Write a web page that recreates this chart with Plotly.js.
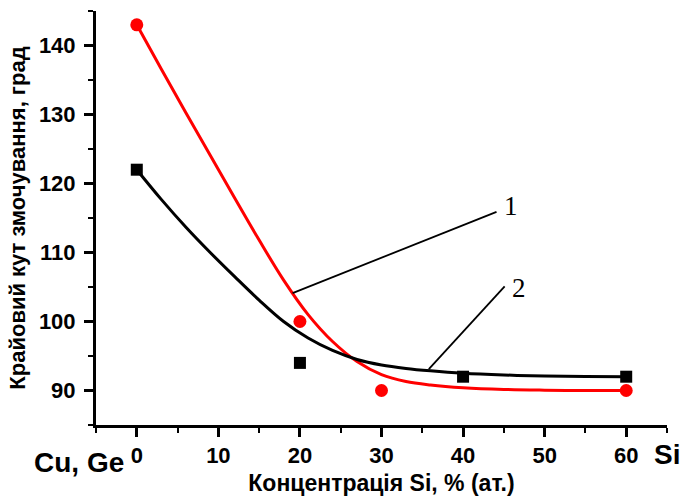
<!DOCTYPE html>
<html>
<head>
<meta charset="utf-8">
<script src="https://cdn.plot.ly/plotly-3.0.1.min.js"></script>
<style>html,body{margin:0;padding:0;background:#fff;}#chart{width:682px;height:496px;}</style>
</head>
<body>
<div id="chart"></div>
<script>
// Measured points
const xRed = [0, 20, 30, 60];
const yRed = [143, 100, 90, 90];
const xBlack = [0, 20, 40, 60];
const yBlack = [122, 94, 92, 92];

// Fitted curves
const fitX = [0, 3, 6, 9, 12, 15, 18, 21, 24, 27, 30, 33, 36, 40, 45, 50, 55, 60];
const fitRed = [143, 136.6, 130.3, 124.1, 117.9, 111.8, 106.0, 101.0, 97.1, 94.2, 92.3, 91.3, 90.8, 90.4, 90.15, 90.05, 90.0, 90.0];
const fitBlack = [122, 117.7, 113.7, 110.0, 106.5, 103.1, 100.0, 97.6, 95.8, 94.5, 93.7, 93.2, 92.85, 92.5, 92.25, 92.1, 92.03, 92.0];

// Tick labels
const xTicks = [0, 10, 20, 30, 40, 50, 60];
const yTicks = [90, 100, 110, 120, 130, 140];

const sans = 'Liberation Sans, Arial, sans-serif';
const serif = 'Liberation Serif, Times New Roman, serif';

const traces = [
  {x: fitX, y: fitRed, mode: 'lines', line: {color: '#ff0000', width: 3, shape: 'spline', smoothing: 1}, showlegend: false, hoverinfo: 'skip'},
  {x: fitX, y: fitBlack, mode: 'lines', line: {color: '#000000', width: 3, shape: 'spline', smoothing: 1}, showlegend: false, hoverinfo: 'skip'},
  {x: xRed, y: yRed, mode: 'markers', marker: {symbol: 'circle', size: 13, color: '#ff0000'}, showlegend: false},
  {x: xBlack, y: yBlack, mode: 'markers', marker: {symbol: 'square', size: 12, color: '#000000'}, showlegend: false}
];

const axisCommon = {
  showline: true, linecolor: '#000', linewidth: 3, mirror: false,
  showgrid: false, zeroline: false,
  ticks: 'outside', ticklen: 9, tickwidth: 3, tickcolor: '#000',
  tickfont: {family: sans, size: 22, color: '#000', weight: 'bold'}
};

const layout = {
  width: 682, height: 496,
  margin: {l: 96, r: 15, t: 11, b: 71},
  paper_bgcolor: '#fff', plot_bgcolor: '#fff',
  xaxis: Object.assign({}, axisCommon, {
    range: [-5, 65], tickvals: xTicks, ticktext: xTicks.map(String),
    ticklabelstandoff: 0,
    minor: {tickvals: [-5, 5, 15, 25, 35, 45, 55, 65], ticks: 'outside', ticklen: 5, tickwidth: 2, tickcolor: '#000'},
    title: {text: 'Концентрація Si, % (ат.)', font: {family: sans, size: 23, color: '#000', weight: 'bold'}, standoff: 8}
  }),
  yaxis: Object.assign({}, axisCommon, {
    range: [85, 145], tickvals: yTicks, ticktext: yTicks.map(String),
    ticklabelstandoff: 4,
    minor: {tickvals: [85, 95, 105, 115, 125, 135, 145], ticks: 'outside', ticklen: 5, tickwidth: 2, tickcolor: '#000'},
    title: {text: 'Крайовий кут змочування, град', font: {family: sans, size: 22, color: '#000', weight: 'bold'}, standoff: 8}
  }),
  shapes: [
    {type: 'line', xref: 'x', yref: 'y', x0: 19.1, y0: 104.1, x1: 44.1, y1: 115.9, line: {color: '#000', width: 1.8}},
    {type: 'line', xref: 'x', yref: 'y', x0: 35.8, y0: 93.1, x1: 45.1, y1: 105.1, line: {color: '#000', width: 1.8}}
  ],
  annotations: [
    {xref: 'x', yref: 'y', x: 45.9, y: 116.8, text: '1', showarrow: false, font: {family: serif, size: 27, color: '#000'}},
    {xref: 'x', yref: 'y', x: 46.8, y: 104.9, text: '2', showarrow: false, font: {family: serif, size: 27, color: '#000'}},
    {xref: 'paper', yref: 'paper', x: 0.0525, y: -0.09, xanchor: 'right', yanchor: 'middle', text: 'Cu, Ge', showarrow: false, font: {family: sans, size: 28, color: '#000', weight: 'bold'}},
    {xref: 'paper', yref: 'paper', x: 1.0, y: -0.072, xanchor: 'center', yanchor: 'middle', text: 'Si', showarrow: false, font: {family: sans, size: 28, color: '#000', weight: 'bold'}}
  ]
};

Plotly.newPlot('chart', traces, layout, {displayModeBar: false, staticPlot: true});
</script>
</body>
</html>
